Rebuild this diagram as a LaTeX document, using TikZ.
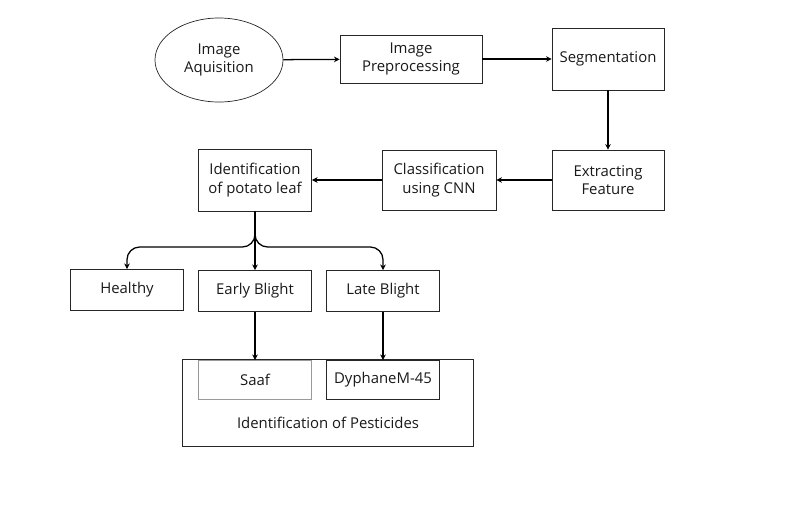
\documentclass[tikz,border=0pt]{standalone}
\usepackage{fontspec}
\setmainfont{Open Sans}
\usepackage{tikz}
\usetikzlibrary{shapes.geometric, arrows.meta}

\begin{document}
\begin{tikzpicture}[x=0.025cm, y=-0.025cm,
          bx/.style={rectangle, draw=black!85, line width=0.5pt,
                     minimum width=2.83cm, align=center,
                     font=\fontsize{10.6}{13}\selectfont, text=black!90},
          arr/.style={-{Stealth[length=4pt, width=4pt]}, line width=0.9pt, black}
        ]
        \useasboundingbox (0,0) rectangle (805,509);

        \node[bx, ellipse, minimum width=3.2cm, minimum height=2.1cm]
              (acq) at (219,60) {Image\\Aquisition};
        \node[bx, minimum width=3.55cm, minimum height=1.2cm]
              (pre) at (411,59) {Image\\Preprocessing};
        \node[bx, minimum width=2.8cm, minimum height=1.55cm]
              (seg) at (608,59) {Segmentation};

        \node[bx, minimum width=2.8cm, minimum height=1.5cm]
              (ext) at (608,180) {Extracting\\Feature};
        \node[bx, minimum width=2.85cm, minimum height=1.5cm]
              (cls) at (439,180) {Classification\\using CNN};
        \node[bx, minimum height=1.55cm]
              (idl) at (255,180) {Identification\\of potato leaf};

        \node[bx, minimum height=1.03cm] (hea) at (127,290) {Healthy};
        \node[bx, minimum height=1.03cm] (ebl) at (255,291) {Early Blight};
        \node[bx, minimum height=1.03cm] (lbl) at (383,291) {Late Blight};

        % pesticides
        \node[bx, minimum width=7.28cm, minimum height=2.18cm]
              (pst) at (328,403) {};
        \node[bx, draw=black!40, minimum height=0.98cm]
              (saaf) at (255,380) {Saaf};
        \node[bx, minimum height=0.98cm]
              (dyp) at (383,380) {DyphaneM-45};
        \node[font=\fontsize{10.6}{13}\selectfont, text=black!90]
              (psttxt) at (328,423) {Identification of Pesticides};

        \coordinate (fork) at (255,247);

        \foreach \a/\b in {acq/pre, pre/seg, seg/ext, ext/cls, cls/idl,
                           idl/ebl, ebl/saaf, lbl/dyp}{
          \draw[arr] (\a) -- (\b);
        }
        \draw[arr, rounded corners=9pt] (idl.south) -- (fork) -| (hea.north);
        \draw[arr, rounded corners=9pt] (idl.south) -- (fork) -| (lbl.north);
      \end{tikzpicture}
\end{document}
